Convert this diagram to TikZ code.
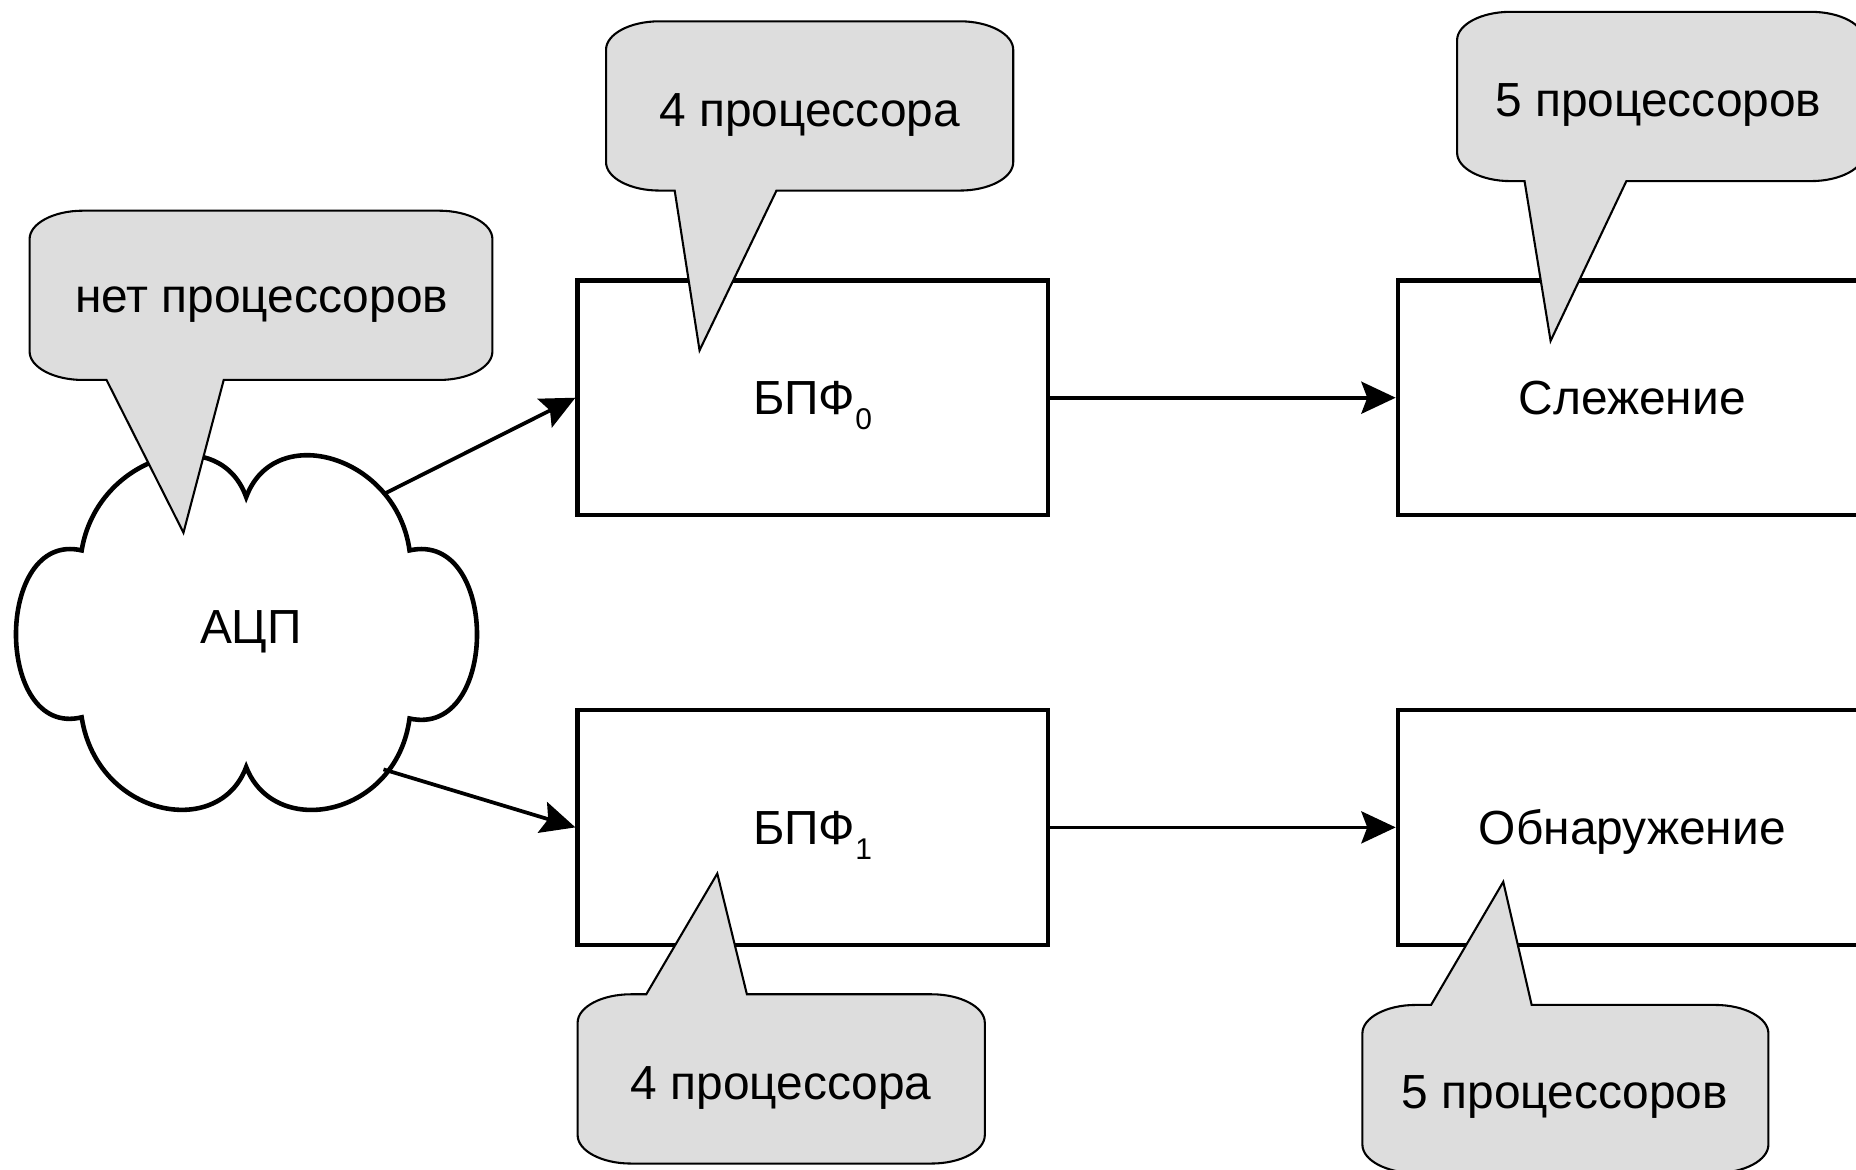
\documentclass[tikz,border=0pt]{standalone}
\usepackage{fontspec}
\setmainfont{Liberation Sans}
\usetikzlibrary{arrows.meta}
\definecolor{bubblegray}{HTML}{DDDDDD}

% corner radii of the speech bubbles
\newcommand\crx{45}
\newcommand\cry{24}
% lowered index after a block name
\newcommand\blockindex[1]{\smash{\raisebox{-3.6pt}{\fontsize{7.2}{8}\selectfont #1}}}
% bubble with its pointer leaving the lower edge: L T R B baseleft baseright tipx tipy
\newcommand\calloutdown[8]{%
  \filldraw[bubble]
    ({#1},{#2+\cry}) .. controls ({#1},{#2+0.45*\cry}) and ({#1+0.45*\crx},{#2}) .. ({#1+\crx},{#2})
    -- ({#3-\crx},{#2}) .. controls ({#3-0.45*\crx},{#2}) and ({#3},{#2+0.45*\cry}) .. ({#3},{#2+\cry})
    -- ({#3},{#4-\cry}) .. controls ({#3},{#4-0.45*\cry}) and ({#3-0.45*\crx},{#4}) .. ({#3-\crx},{#4})
    -- ({#6},{#4}) -- ({#7},{#8}) -- ({#5},{#4})
    -- ({#1+\crx},{#4}) .. controls ({#1+0.45*\crx},{#4}) and ({#1},{#4-0.45*\cry}) .. ({#1},{#4-\cry})
    -- cycle;}
% bubble with its pointer leaving the upper edge
\newcommand\calloutup[8]{%
  \filldraw[bubble]
    ({#1},{#2+\cry}) .. controls ({#1},{#2+0.45*\cry}) and ({#1+0.45*\crx},{#2}) .. ({#1+\crx},{#2})
    -- ({#5},{#2}) -- ({#7},{#8}) -- ({#6},{#2})
    -- ({#3-\crx},{#2}) .. controls ({#3-0.45*\crx},{#2}) and ({#3},{#2+0.45*\cry}) .. ({#3},{#2+\cry})
    -- ({#3},{#4-\cry}) .. controls ({#3},{#4-0.45*\cry}) and ({#3-0.45*\crx},{#4}) .. ({#3-\crx},{#4})
    -- ({#1+\crx},{#4}) .. controls ({#1+0.45*\crx},{#4}) and ({#1},{#4-0.45*\cry}) .. ({#1},{#4-\cry})
    -- cycle;}

\begin{document}
\begin{tikzpicture}[x=0.01cm, y=-0.01cm,
  every node/.style={font=\fontsize{11.5}{13.8}\selectfont},
  block/.style={draw, line width=1pt, fill=white, minimum width=3.97cm, minimum height=1.98cm,
    inner sep=0pt, text height=8.3pt, text depth=0pt},
  bubble/.style={draw=black, fill=bubblegray, line width=0.5pt, line join=miter},
  bubbletext/.style={inner sep=0pt},
  arrowline/.style={line width=0.9pt, -{Stealth[length=0.29cm, width=0.27cm, inset=0.05cm]}},
  cloudline/.style={draw, fill=white, line width=1.1pt}]

\useasboundingbox (0,0) rectangle (1568,988);
\fill[white] (0,0) rectangle (1568,988);

% the converter cloud
\path[cloudline]
  (69,465) .. controls (82,385) and (185,355) .. (208,420)
  .. controls (232,355) and (335,385) .. (346,465)
  .. controls (422,448) and (422,624) .. (346,607)
  .. controls (335,690) and (232,710) .. (208,648)
  .. controls (185,710) and (82,690) .. (69,606)
  .. controls (-5,624) and (-5,448) .. (69,465) -- cycle;
\node (adc) at (212,534) {АЦП};
\coordinate (adcUp) at (325,417);
\coordinate (adcDown) at (324,650);

% processing blocks
\node[block] (b0) at (686.5,336) {БПФ\blockindex{0}};
\node[block] (b1) at (686.5,699) {БПФ\blockindex{1}};
\node[block, minimum width=3.96cm] (track) at (1379,336) {Слежение};
\node[block, minimum width=3.96cm] (detect) at (1379,699) {Обнаружение};

% data flow
\draw[arrowline] (adcUp) -- (b0.west);
\draw[arrowline] (adcDown) -- (b1.west);
\draw[arrowline] (b0.east) -- (track.west);
\draw[arrowline] (b1.east) -- (detect.west);

% processor counts
\calloutdown{25}{178}{416}{321}{90}{189}{155}{450}
\node[bubbletext] (nadc) at (221,257) {нет процессоров};

\calloutdown{512}{18}{856}{161}{570}{656}{591}{296}
\node[bubbletext] (nb0) at (684,97) {4 процессора};

\calloutdown{1231}{10}{1575}{153}{1288}{1374}{1310}{288}
\node[bubbletext] (ntrack) at (1401,89) {5 процессоров};

\calloutup{488}{840}{832}{983}{546}{631}{606}{738}
\node[bubbletext] (nb1) at (660,919) {4 процессора};

\calloutup{1151}{849}{1494}{991}{1209}{1294}{1270}{745}
\node[bubbletext] (ndetect) at (1322,927) {5 процессоров};

\end{tikzpicture}
\end{document}
